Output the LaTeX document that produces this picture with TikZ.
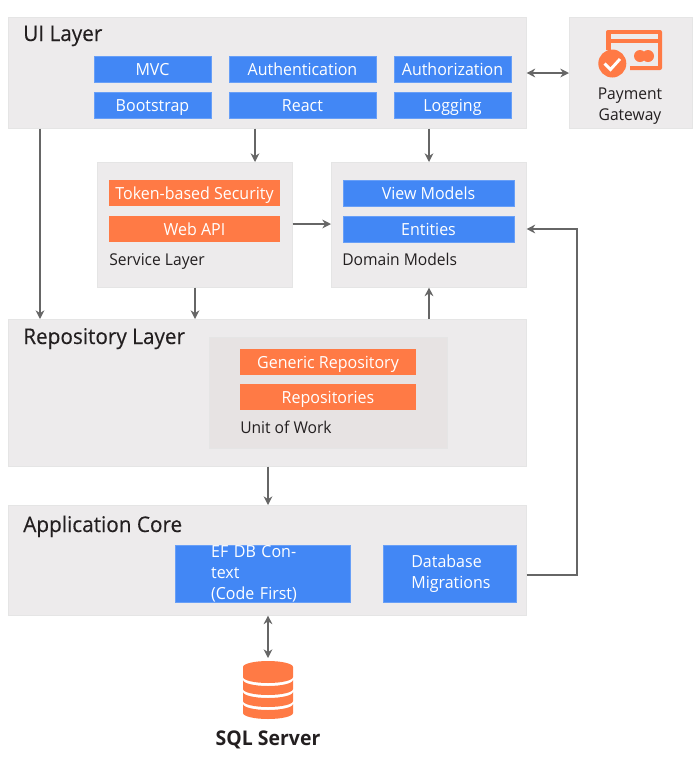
\documentclass[tikz,border=0pt]{standalone}
\usepackage{fontspec}
\setmainfont{Open Sans}[FakeStretch=0.96]
\usetikzlibrary{arrows.meta,positioning,calc}
\definecolor{panelgray}{HTML}{EDEBEC}
\definecolor{innergray}{HTML}{E7E3E3}
\definecolor{boxblue}{HTML}{4287F5}
\definecolor{boxorange}{HTML}{FF7A45}
\definecolor{arrowgray}{HTML}{666666}
\definecolor{inktext}{HTML}{231F20}

\begin{document}
\begin{tikzpicture}[x=0.75pt, y=-0.75pt, >=Stealth,
    panel/.style = {fill=panelgray, draw=black!10, line width=0.4pt, inner sep=0pt, anchor=north west},
    corebox/.style = {fill=boxblue, draw=boxblue!80!white, line width=0.4pt, text=white, inner sep=0pt, font=\fontsize{12.5}{15.75}\selectfont, align=left},
    bluebox/.style = {corebox, text height=11pt, text depth=2pt},
    orangebox/.style = {fill=boxorange, text=white, inner sep=0pt, text height=11pt, text depth=2pt, font=\fontsize{12.5}{15.75}\selectfont},
    paneltitle/.style = {anchor=base west, text=inktext, inner sep=0pt, font=\fontsize{16.2}{19}\selectfont\addfontfeature{FakeBold=0.25}},
    caption/.style = {anchor=base west, text=inktext, inner sep=0pt, font=\fontsize{12.2}{15.75}\selectfont},
    link/.style = {draw=arrowgray, line width=1.5pt, -{Stealth[length=6.5pt,width=6.5pt]}},
    duallink/.style = {link, {Stealth[length=6.5pt,width=6.5pt]}-{Stealth[length=6.5pt,width=6.5pt]}}]
    \useasboundingbox (0,0) rectangle (700,765);

    % Panels
    \node[panel, minimum width=388.5pt, minimum height=83.25pt] (ui) at (8,17) {};
    \node[panel, minimum width=92.25pt, minimum height=83.25pt] (payment) at (569,17) {};
    \node[panel, minimum width=146.25pt, minimum height=93.75pt] (service) at (97,162) {};
    \node[panel, minimum width=146.25pt, minimum height=93.75pt] (domain) at (331,162) {};
    \node[panel, minimum width=388.5pt, minimum height=110.25pt] (repo) at (8,319) {};
    \node[panel, fill=innergray, minimum width=178.5pt, minimum height=83.25pt] (uow) at (209,337) {};
    \node[panel, minimum width=388.5pt, minimum height=82.5pt] (core) at (8,505) {};

    % Titles
    \node[paneltitle] (uititle) at (23,41) {UI Layer};
    \node[paneltitle] (repotitle) at (23,344) {Repository Layer};
    \node[paneltitle] (coretitle) at (23,532) {Application Core};
    \node[caption] (servicetitle) at (109,265) {Service Layer};
    \node[caption] (domaintitle) at (342,265) {Domain Models};
    \node[caption] (uowtitle) at (240,433) {Unit of Work};

    % UI layer boxes
    \node[bluebox, minimum width=87.75pt, minimum height=19.5pt] (mvc) at (152.5,69) {MVC};
    \node[bluebox, minimum width=110.25pt, minimum height=19.5pt] (authn) at (302.5,69) {Authentication};
    \node[bluebox, minimum width=87.75pt, minimum height=19.5pt] (authz) at (452.5,69) {Authorization};
    \node[bluebox, minimum width=87.75pt, minimum height=19.5pt] (bootstrap) at (152.5,105) {Bootstrap};
    \node[bluebox, minimum width=110.25pt, minimum height=19.5pt] (react) at (302.5,105) {React};
    \node[bluebox, minimum width=87.75pt, minimum height=19.5pt] (logging) at (452.5,105) {Logging};

    % Middle boxes
    \node[orangebox, minimum width=128.25pt, minimum height=19.5pt] (token) at (194.5,193) {Token-based Security};
    \node[orangebox, minimum width=128.25pt, minimum height=19.5pt] (webapi) at (194.5,229) {Web API};
    \node[bluebox, minimum width=128.25pt, minimum height=19.5pt] (viewmodels) at (428.5,193) {View Models};
    \node[bluebox, minimum width=128.25pt, minimum height=19.5pt] (entities) at (428.5,229) {Entities};
    \node[orangebox, minimum width=132pt, minimum height=19.5pt] (generic) at (328,362) {Generic Repository};
    \node[orangebox, minimum width=132pt, minimum height=19.5pt] (repos) at (328,397) {Repositories};

    % Core boxes
    \node[corebox, minimum width=131.25pt, minimum height=42.75pt, text width=77pt] (ef) at (262.5,573.5) {EF DB Context\\(Code First)};
    \node[corebox, minimum width=99.75pt, minimum height=42.75pt, text width=58pt] (mig) at (450,573.5) {Database\\Migrations};

    % Payment icon
    \fill[boxorange, rounded corners=1.5pt] (606,30) rectangle (662,70);
    \fill[panelgray] (611,34) rectangle (658,38.5);
    \fill[panelgray] (611,43) rectangle (658,66);
    \fill[panelgray] (600,50) rectangle (630,72);
    \fill[boxorange] (640,56) circle (6) (648,56) circle (6);
    \fill[boxorange] (612.3,63.5) circle (14);
    \draw[white, line width=2.2pt] (604.5,63.5) -- (610.5,69.5) -- (620,59);
    \node[text=inktext, inner sep=0pt, align=center, font=\fontsize{12.2}{15.75}\selectfont] (paylabel) at (630,106) {Payment\\Gateway};

    % Database icon
    \fill[boxorange] (243,667) arc (180:360:25 and 6) -- (293,677) arc (0:180:25 and 6) -- cycle;
    \foreach \ytop in {680,692,704} {
        \fill[boxorange] (243,\ytop) arc (180:0:25 and 6) -- ++(0,9) arc (0:180:25 and 6) -- cycle;
    }
    \node[text=inktext, inner sep=0pt, anchor=base, font=\fontsize{15.2}{18}\selectfont\bfseries] (sql) at (268,745) {SQL Server};

    % Anchors for the arrows
    \coordinate (a) at (40,0);
    \coordinate (b) at (255,0);
    \coordinate (c) at (429,0);
    \coordinate (d) at (195,0);
    \coordinate (e) at (268,0);
    \coordinate (f) at (0,73);
    \coordinate (g) at (0,224);
    \coordinate (h) at (0,575);
    \coordinate (i) at (577,0);
    \coordinate (j) at (0,658);

    % Directed edges
    \draw[link] (a |- ui.south) -- (a |- repo.north);
    \draw[link] (b |- ui.south) -- (b |- service.north);
    \draw[link] (c |- ui.south) -- (c |- domain.north);
    \draw[link] (d |- service.south) -- (d |- repo.north);
    \draw[link] (g -| service.east) -- (g -| domain.west);
    \draw[link] (c |- repo.north) -- (c |- domain.south);
    \draw[link] (e |- repo.south) -- (e |- core.north);
    \draw[duallink] (f -| ui.east) -- (f -| payment.west);
    \draw[duallink] (e |- core.south) -- (e |- j);
    \draw[link] (h -| core.east) -- (h -| i) |- (entities.east -| domain.east);
\end{tikzpicture}
\end{document}
